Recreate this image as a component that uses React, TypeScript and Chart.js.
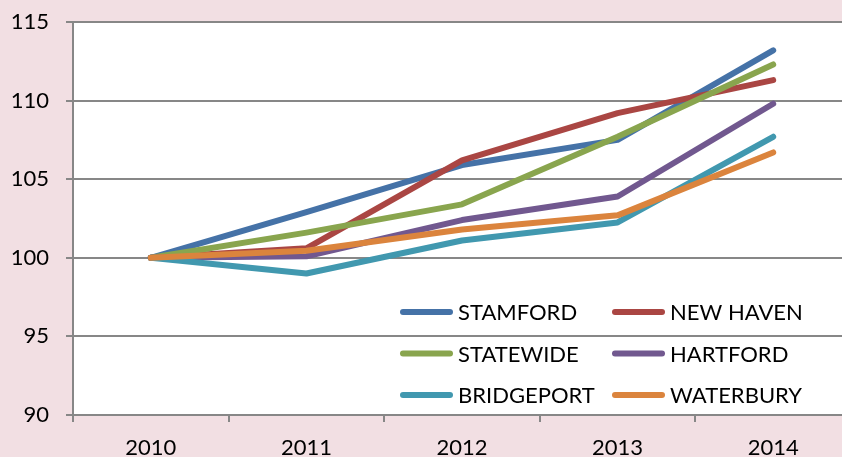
import React, { useEffect, useRef } from "react";
import { Chart, registerables } from "chart.js";

Chart.register(...registerables);

const years = ["2010", "2011", "2012", "2013", "2014"];
const stamford = [100, 102.9, 105.9, 107.5, 113.2];
const newHaven = [100, 100.6, 106.2, 109.2, 111.3];
const statewide = [100, 101.6, 103.4, 107.7, 112.3];
const hartford = [100, 100.1, 102.4, 103.9, 109.8];
const bridgeport = [100, 99.0, 101.1, 102.25, 107.7];
const waterbury = [100, 100.45, 101.8, 102.7, 106.7];
const seriesNames = ["STAMFORD", "NEW HAVEN", "STATEWIDE", "HARTFORD", "BRIDGEPORT", "WATERBURY"];
const seriesValues = [stamford, newHaven, statewide, hartford, bridgeport, waterbury];
const seriesColors = ["#4572A7", "#AA4643", "#89A54E", "#71588F", "#4198AF", "#DB843D"];
const yMin = 90;
const yMax = 115;
const yStep = 5;

const PINK = "#f2dfe3";
const GRID = "#878787";
const FONT = "Lato";
const FONT_SIZE = 22;
const LINE_W = 6;

const bgPlugin = {
  id: "bgPlugin",
  beforeDraw(chart: any) {
    const { ctx, chartArea, width, height } = chart;
    ctx.save();
    ctx.fillStyle = PINK;
    ctx.fillRect(0, 0, width, height);
    ctx.fillStyle = "#ffffff";
    ctx.fillRect(chartArea.left, chartArea.top, chartArea.right - chartArea.left, chartArea.bottom - chartArea.top);
    ctx.restore();
  },
};

const legendPlugin = {
  id: "insideLegend",
  afterDraw(chart: any) {
    const { ctx, chartArea } = chart;
    const ds = chart.data.datasets;
    const col0 = chartArea.right - 451;
    const colW = 212;
    const row0 = chartArea.bottom - 103;
    const rowH = 41.5;
    ctx.save();
    ds.forEach((d: any, i: number) => {
      const c = i % 2;
      const r = Math.floor(i / 2);
      const x = col0 + c * colW;
      const y = row0 + r * rowH;
      ctx.strokeStyle = d.borderColor;
      ctx.lineWidth = LINE_W;
      ctx.lineCap = "round";
      ctx.beginPath();
      ctx.moveTo(x + 3, y);
      ctx.lineTo(x + 50, y);
      ctx.stroke();
      ctx.fillStyle = "#000";
      ctx.font = `${FONT_SIZE}px ${FONT}`;
      ctx.textBaseline = "middle";
      ctx.textAlign = "left";
      ctx.fillText(d.label, x + 58, y + 1);
    });
    ctx.restore();
  },
};

export default function App() {
  const ref = useRef<HTMLCanvasElement | null>(null);

  useEffect(() => {
    if (!ref.current) return;
    const chart = new Chart(ref.current, {
      type: "line",
      data: {
        labels: years,
        datasets: seriesNames.map((name, i) => ({
          label: name,
          data: seriesValues[i],
          borderColor: seriesColors[i],
          backgroundColor: seriesColors[i],
          borderWidth: LINE_W,
          borderCapStyle: "round",
          borderJoinStyle: "round",
          pointRadius: 0,
          tension: 0,
          fill: false,
          order: seriesNames.length - i,
        })),
      },
      options: {
        responsive: false,
        maintainAspectRatio: false,
        devicePixelRatio: 1,
        animation: false,
        layout: { padding: { top: 22, left: 0, right: 0, bottom: 0 } },
        plugins: {
          legend: { display: false },
          tooltip: { enabled: false },
        },
        scales: {
          x: {
            type: "category",
            offset: true,
            grid: {
              offset: true,
              drawOnChartArea: false,
              drawTicks: true,
              tickLength: 7,
              color: GRID,
              lineWidth: 2,
            },
            border: { display: true, color: GRID, width: 2 },
            ticks: { color: "#000", font: { family: FONT, size: FONT_SIZE }, padding: 13, maxRotation: 0 },
            afterFit: (s: any) => {
              s.height = 42;
              s.paddingLeft = 0;
              s.paddingRight = 0;
            },
          },
          y: {
            min: yMin,
            max: yMax,
            ticks: { stepSize: yStep, color: "#000", font: { family: FONT, size: FONT_SIZE }, padding: 17 },
            grid: { color: GRID, lineWidth: 2, tickLength: 7, drawTicks: true },
            border: { display: true, color: GRID, width: 2 },
            afterFit: (s: any) => {
              s.width = 73;
              s.paddingTop = 0;
              s.paddingBottom = 0;
            },
          },
        },
      },
      plugins: [bgPlugin, legendPlugin],
    } as any);
    return () => chart.destroy();
  }, []);

  return (
    <div
      style={{
        position: "fixed",
        left: 0,
        top: 0,
        width: 842,
        height: 457,
        overflow: "hidden",
        background: PINK,
      }}
    >
      <canvas ref={ref} width={851} height={457} style={{ display: "block", width: 851, height: 457 }} />
    </div>
  );
}
